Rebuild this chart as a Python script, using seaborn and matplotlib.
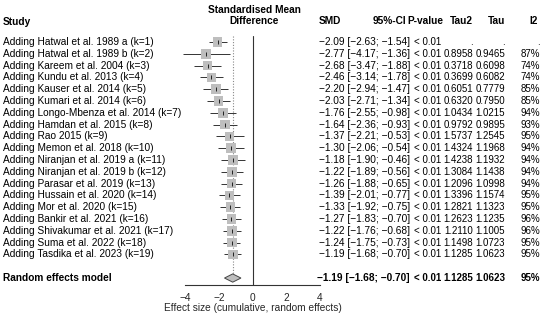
import numpy as np
import matplotlib
matplotlib.use("Agg")
import matplotlib.pyplot as plt
import matplotlib.transforms as mtransforms
import seaborn as sns

# cumulative meta-analysis, one row per added study
studies = ["Adding Hatwal et al. 1989 a (k=1)", "Adding Hatwal et al. 1989 b (k=2)",
           "Adding Kareem et al. 2004 (k=3)", "Adding Kundu et al. 2013 (k=4)",
           "Adding Kauser et al. 2014 (k=5)", "Adding Kumari et al. 2014 (k=6)",
           "Adding Longo-Mbenza et al. 2014 (k=7)", "Adding Hamdan et al. 2015 (k=8)",
           "Adding Rao 2015 (k=9)", "Adding Memon et al. 2018 (k=10)",
           "Adding Niranjan et al. 2019 a (k=11)", "Adding Niranjan et al. 2019 b (k=12)",
           "Adding Parasar et al. 2019 (k=13)", "Adding Hussain et al. 2020 (k=14)",
           "Adding Mor et al. 2020 (k=15)", "Adding Bankir et al. 2021 (k=16)",
           "Adding Shivakumar et al. 2021 (k=17)", "Adding Suma et al. 2022 (k=18)",
           "Adding Tasdika et al. 2023 (k=19)"]
smd = [-2.09, -2.77, -2.68, -2.46, -2.20, -2.03, -1.76, -1.64, -1.37, -1.30,
       -1.18, -1.22, -1.26, -1.39, -1.33, -1.27, -1.22, -1.24, -1.19]
lower = [-2.63, -4.17, -3.47, -3.14, -2.94, -2.71, -2.55, -2.36, -2.21, -2.06,
         -1.90, -1.89, -1.88, -2.01, -1.92, -1.83, -1.76, -1.75, -1.68]
upper = [-1.54, -1.36, -1.88, -1.78, -1.47, -1.34, -0.98, -0.93, -0.53, -0.54,
         -0.46, -0.56, -0.65, -0.77, -0.75, -0.70, -0.68, -0.73, -0.70]
pvals = ["< 0.01"] * 19
tau2 = [None, 0.8958, 0.3718, 0.3699, 0.6051, 0.6320, 1.0434, 0.9792, 1.5737, 1.4324,
        1.4238, 1.3084, 1.2096, 1.3396, 1.2821, 1.2623, 1.2110, 1.1498, 1.1285]
tau = [None, 0.9465, 0.6098, 0.6082, 0.7779, 0.7950, 1.0215, 0.9895, 1.2545, 1.1968,
       1.1932, 1.1438, 1.0998, 1.1574, 1.1323, 1.1235, 1.1005, 1.0723, 1.0623]
i2 = [None, 87, 74, 74, 85, 85, 94, 93, 95, 94, 94, 94, 94, 95, 95, 96, 96, 95, 95]

# random effects model
re_smd, re_lo, re_hi = -1.19, -1.68, -0.70
re_p, re_tau2, re_tau, re_i2 = "< 0.01", 1.1285, 1.0623, 95

xticks = [-4, -2, 0, 2, 4]

sns.set_style("white")
plt.rcParams["font.family"] = ["Liberation Sans", "DejaVu Sans"]
plt.rcParams["axes.unicode_minus"] = True
fs = 7.3
fs_num = 7.0

W, H = 550, 325
fig = plt.figure(figsize=(W / 100, H / 100), dpi=100)

# forest panel placed in pixel units
px_left, px_right, px_top, px_bot = 175, 330, 36, 285
ax = fig.add_axes([px_left / W, 1 - px_bot / H, (px_right - px_left) / W, (px_bot - px_top) / H])
x0, unit = 252.7, 16.8
ax.set_xlim((px_left - x0) / unit, (px_right - x0) / unit)
rows = np.arange(len(studies))
re_row = 20
ax.set_ylim(20.59, -0.51)

# reference lines
ax.axvline(0, color="#333333", lw=0.8, zorder=1)
ax.plot([re_smd, re_smd], [-0.51, re_row - 0.35], color="#888888", lw=0.8,
        ls=(0, (1, 1.5)), zorder=1)

# CIs and squares
ax.hlines(rows, lower, upper, color="#333333", lw=0.7, zorder=2)
sns.scatterplot(x=smd, y=rows, marker="s", s=48, color="#BEBEBE", edgecolor="none",
                ax=ax, legend=False, zorder=3)
ax.scatter(smd, rows, marker="|", s=6, color="#222222", lw=0.7, zorder=4)

# diamond
h = 0.35
ax.fill([re_lo, re_smd, re_hi, re_smd], [re_row, re_row - h, re_row, re_row + h],
        facecolor="#BEBEBE", edgecolor="#444444", lw=0.7, zorder=3)

for s in ["left", "right", "top"]:
    ax.spines[s].set_visible(False)
ax.spines["bottom"].set_bounds(-4, 4)
ax.spines["bottom"].set_color("#333333")
ax.spines["bottom"].set_linewidth(0.8)
ax.set_xticks(xticks)
ax.set_xticklabels([str(t).replace("-", "\u2212") for t in xticks], fontsize=fs)
ax.tick_params(axis="x", direction="out", length=4, width=0.8, pad=1.5, color="#333333")
ax.set_yticks([])
ax.set_xlabel("Effect size (cumulative, random effects)", fontsize=fs, labelpad=0.5)

# text columns: x in figure pixels, y in row units
tr = mtransforms.blended_transform_factory(fig.transFigure, ax.transData)


def put(xpx, y, s, ha="left", bold=False, size=fs):
    ax.text(xpx / W, y, s, transform=tr, ha=ha, va="center", fontsize=size,
            fontweight="bold" if bold else "normal", color="black", clip_on=False)


def num(v):
    return f"{v:.2f}".replace("-", "\u2212")


# column right edges (pixels)
c_ci, c_p, c_t2, c_t, c_i2 = 410, 441, 473, 505, 540

# headers
put(3, -1.72, "Study", bold=True)
put(254, -2.75, "Standardised Mean", ha="center", bold=True)
put(254, -1.82, "Difference", ha="center", bold=True)
put(341, -1.78, "SMD", ha="right", bold=True)
put(c_ci - 4, -1.78, "95%-CI", ha="right", bold=True)
put(c_p + 2, -1.78, "P-value", ha="right", bold=True)
put(c_t2, -1.78, "Tau2", ha="right", bold=True)
put(c_t, -1.78, "Tau", ha="right", bold=True)
put(c_i2 - 2, -1.78, "I2", ha="right", bold=True)

for i in rows:
    put(3, i, studies[i])
    put(c_ci, i, f"{num(smd[i])} [{num(lower[i])}; {num(upper[i])}]", ha="right")
    put(c_p, i, pvals[i], ha="right", size=fs_num)
    put(c_t2, i, "." if tau2[i] is None else f"{tau2[i]:.4f}", ha="right", size=fs_num)
    put(c_t, i, "." if tau[i] is None else f"{tau[i]:.4f}", ha="right", size=fs_num)
    put(c_i2, i, "." if i2[i] is None else f"{i2[i]}%", ha="right", size=fs_num)

put(3, re_row, "Random effects model", bold=True)
put(c_ci, re_row, f"{num(re_smd)} [{num(re_lo)}; {num(re_hi)}]", ha="right", bold=True)
put(c_p, re_row, re_p, ha="right", bold=True, size=fs_num)
put(c_t2, re_row, f"{re_tau2:.4f}", ha="right", bold=True, size=fs_num)
put(c_t, re_row, f"{re_tau:.4f}", ha="right", bold=True, size=fs_num)
put(c_i2, re_row, f"{re_i2}%", ha="right", bold=True, size=fs_num)

fig.savefig("out.png", dpi=100)
